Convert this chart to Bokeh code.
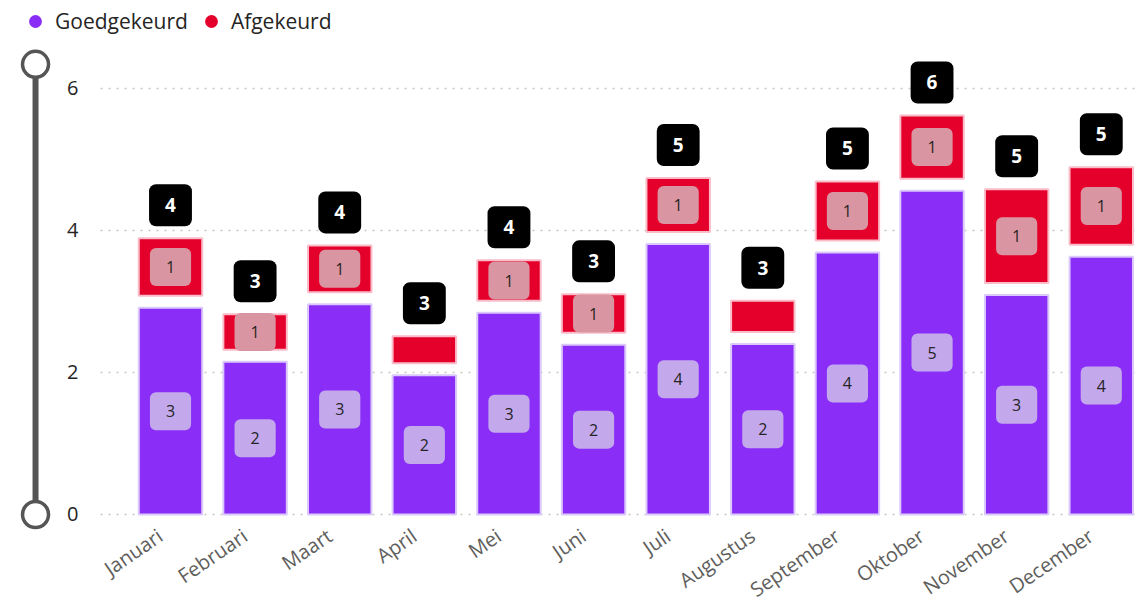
from bokeh.plotting import figure
from bokeh.models import (Range1d, LinearAxis, FixedTicker, Grid, ColumnDataSource,
                          Legend, LegendItem)
from bokeh.core.properties import value
from bokeh.embed import file_html
from bokeh.resources import INLINE
import numpy as np

# ---------------- data ----------------
months = ["Januari", "Februari", "Maart", "April", "Mei", "Juni", "Juli",
          "Augustus", "September", "Oktober", "November", "December"]
goedgekeurd = [2.91, 2.15, 2.96, 1.96, 2.84, 2.39, 3.81, 2.40, 3.69, 4.56, 3.09, 3.63]
afgekeurd = [0.98, 0.67, 0.83, 0.55, 0.74, 0.71, 0.93, 0.61, 1.00, 1.06, 1.49, 1.26]
y_ticks = [0, 2, 4, 6]
series_names = ["Goedgekeurd", "Afgekeurd"]

# ---------------- style / layout ----------------
PURPLE = "#8A2EF7"
RED = "#E4002B"
FONT = "Open Sans"
W, H = 1137, 605
X0, X1 = -2.009, 11.428
Y0, Y1 = -1.282, 7.239
YAXIS_X = -0.827        # position of the value axis
SLIDER_X = -1.595       # decorative range slider left of the axis
SLIDER_TOP = 6.34
GAP = 0.17              # visual gap between stacked segments
BAR_W = 0.75
MIN_LABEL = 0.64        # segments smaller than this get no inner label
LABEL_SHIFT = 0.12      # category labels sit slightly left of the bar centre

idx = np.arange(len(months))
g = np.array(goedgekeurd)
a = np.array(afgekeurd)
tot = g + a

src = ColumnDataSource(dict(
    x=idx, g=g, a_bottom=g + GAP, tot=tot,
    g_mid=g / 2,
    g_lbl=[str(int(round(v))) for v in g],
    t_lbl=[str(int(round(v))) for v in tot],
))
mask = a >= MIN_LABEL
src_a = ColumnDataSource(dict(
    x=idx[mask], y=((g + GAP + tot) / 2)[mask],
    lbl=[str(int(round(v))) for v in a[mask]],
))

p = figure(width=W, height=H, output_backend="svg", toolbar_location=None,
           x_range=Range1d(X0, X1), y_range=Range1d(Y0, Y1),
           x_axis_location=None, y_axis_location=None,
           min_border_left=0, min_border_right=0, min_border_top=0, min_border_bottom=0)
p.outline_line_color = None
p.xgrid.visible = False
p.ygrid.visible = False
p.background_fill_color = "white"
p.border_fill_color = "white"

# grid
grid = Grid(dimension=1, ticker=FixedTicker(ticks=y_ticks), cross_bounds=(YAXIS_X, X1),
            grid_line_color="#c8c6c4", grid_line_dash="2 6", grid_line_width=1.5)
p.add_layout(grid, "center")

# axes
yax = LinearAxis(fixed_location=YAXIS_X, ticker=FixedTicker(ticks=y_ticks),
                 axis_line_color=None, major_tick_line_color=None, minor_tick_line_color=None,
                 major_label_standoff=16, major_label_text_font=FONT,
                 major_label_text_font_size="20px", major_label_text_color="#252423")
p.add_layout(yax, "left")

xticks = [float(i) - LABEL_SHIFT for i in idx]
xax = LinearAxis(fixed_location=0, ticker=FixedTicker(ticks=xticks),
                 major_label_overrides={t: m for t, m in zip(xticks, months)},
                 axis_line_color=None, major_tick_line_color=None, minor_tick_line_color=None,
                 major_label_standoff=13, major_label_orientation=0.6,
                 major_label_text_font=FONT, major_label_text_font_size="20px",
                 major_label_text_color="#605E5C")
p.add_layout(xax, "below")

# slider decoration
p.segment(x0=SLIDER_X, y0=min(y_ticks), x1=SLIDER_X, y1=SLIDER_TOP,
          line_color="#555555", line_width=6)
p.scatter(x=[SLIDER_X, SLIDER_X], y=[min(y_ticks), SLIDER_TOP], size=26,
          fill_color="white", line_color="#555555", line_width=3.5)

# bars
p.vbar(x="x", bottom=0, top="g", width=BAR_W, source=src,
       fill_color=PURPLE, line_color="#DCC9FC", line_width=2)
p.vbar(x="x", bottom="a_bottom", top="tot", width=BAR_W, source=src,
       fill_color=RED, line_color="#F9BCC8", line_width=2)

# inner labels
p.text(x="x", y="g_mid", text="g_lbl", source=src, text_align="center",
       text_baseline="middle", text_font=value(FONT), text_font_size="16px",
       text_color="#252423", background_fill_color="#C3A9EC",
       border_radius=6, padding=dict(left=16, right=16, top=13, bottom=13))
p.text(x="x", y="y", text="lbl", source=src_a, text_align="center",
       text_baseline="middle", text_font=value(FONT), text_font_size="16px",
       text_color="#252423", background_fill_color="#DA95A2",
       border_radius=6, padding=dict(left=16, right=16, top=13, bottom=13))
# totals
p.text(x="x", y="tot", text="t_lbl", source=src, y_offset=-33, text_align="center",
       text_baseline="middle", text_font=value(FONT), text_font_size="19px",
       text_font_style="bold", text_color="white", background_fill_color="black",
       border_radius=7, padding=dict(left=16, right=16, top=14, bottom=14))

# legend (legend-only renderers: zero-size markers on the bar tops)
r1 = p.scatter(x="x", y="g", source=src, size=0, marker="circle",
               fill_color=PURPLE, line_color=None)
r2 = p.scatter(x="x", y="tot", source=src, size=0, marker="circle",
               fill_color=RED, line_color=None)
legend = Legend(items=[LegendItem(label=series_names[0], renderers=[r1]),
                       LegendItem(label=series_names[1], renderers=[r2])],
                orientation="horizontal", location=(19, H - 32 - 5),
                margin=0, padding=0, spacing=7, label_standoff=4,
                glyph_width=32, glyph_height=32,
                label_text_font=FONT, label_text_font_size="21px",
                label_text_color="#252423",
                background_fill_alpha=0, border_line_color=None)
p.add_layout(legend, "center")

open("out.html", "w").write(file_html(p, INLINE))
